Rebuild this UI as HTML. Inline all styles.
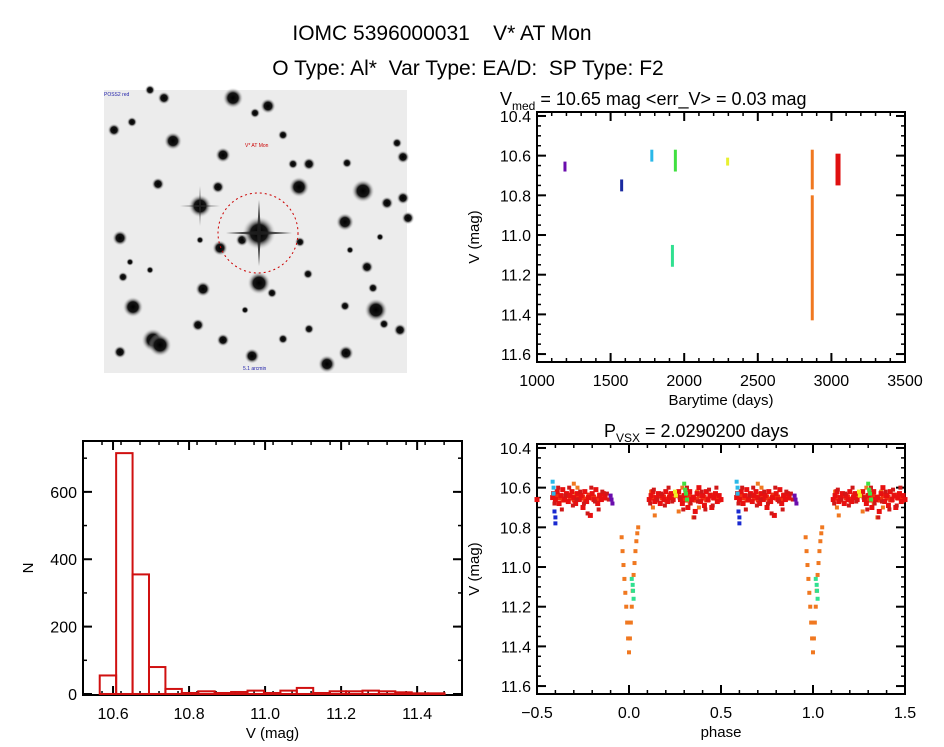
<!DOCTYPE html>
<html><head><meta charset="utf-8"><style>
html,body{margin:0;padding:0;background:#fff;}
svg{display:block;font-family:"Liberation Sans",sans-serif;}
</style></head><body>
<svg id="fig" width="944" height="747" viewBox="0 0 944 747">
<text x="442" y="40" font-size="21" text-anchor="middle" xml:space="preserve">IOMC 5396000031    V* AT Mon</text>
<text x="468" y="75" font-size="21" text-anchor="middle" xml:space="preserve">O Type: Al*  Var Type: EA/D:  SP Type: F2</text>
<g id="img"></g>
<g id="lc"></g>
<g id="hist"></g>
<g id="ph"></g>
</svg>
<script>
// ---- light curve data (time groups) ----
const lcTimes  = [1190, 1575, 1780, 1940, 1920, 2295, 2870, 2870, 3045];
const lcMagMin = [10.63,10.72,10.57,10.57,11.05,10.61,10.57,10.80,10.59];
const lcMagMax = [10.68,10.78,10.63,10.68,11.16,10.65,10.77,11.43,10.75];
const lcColors = ["#6a0dad","#1a2aa0","#2ab8e8","#40e040","#30e090","#e8f030","#f07820","#f07820","#e01010"];
// ---- histogram ----
const histStart = 10.565, histWidth = 0.0432;
const histCounts = [55,715,355,80,15,3,8,3,6,10,3,10,18,3,8,8,10,8,5,2,2];
// ---- phase data (phase in 0..1) ----
const redPhase = [0.11,0.12,0.13,0.14,0.15,0.16,0.17,0.18,0.19,0.20,0.21,0.22,0.23,0.24,0.26,0.27,0.28,0.29,0.30,0.31,0.32,0.33,0.34,0.35,0.36,0.37,0.38,0.39,0.40,0.41,0.42,0.43,0.44,0.45,0.46,0.47,0.48,0.49,0.50,0.585,0.59,0.60,0.61,0.62,0.63,0.64,0.65,0.66,0.67,0.68,0.69,0.70,0.71,0.72,0.73,0.74,0.75,0.76,0.77,0.78,0.79,0.80,0.81,0.82,0.83,0.84,0.85,0.86,0.87];
const redMag   = [10.66,10.64,10.62,10.67,10.65,10.63,10.68,10.64,10.66,10.62,10.67,10.65,10.63,10.66,10.64,10.62,10.66,10.68,10.64,10.63,10.70,10.62,10.66,10.65,10.72,10.63,10.60,10.67,10.64,10.69,10.62,10.66,10.64,10.70,10.65,10.63,10.67,10.64,10.66,10.65,10.63,10.66,10.62,10.68,10.64,10.61,10.66,10.63,10.67,10.64,10.62,10.65,10.68,10.63,10.66,10.64,10.70,10.62,10.67,10.65,10.74,10.63,10.66,10.61,10.68,10.64,10.66,10.63,10.65];
const red2Phase = [0.115,0.135,0.155,0.175,0.195,0.215,0.235,0.275,0.295,0.315,0.335,0.355,0.375,0.395,0.415,0.435,0.455,0.475,0.595,0.615,0.635,0.655,0.675,0.695,0.715,0.735,0.755,0.775,0.795,0.815,0.835,0.855,0.88,0.89];
const red2Mag   = [10.68,10.61,10.66,10.63,10.69,10.60,10.67,10.65,10.71,10.60,10.68,10.75,10.67,10.62,10.71,10.61,10.69,10.60,10.68,10.60,10.71,10.64,10.60,10.69,10.66,10.62,10.68,10.73,10.60,10.67,10.71,10.62,10.63,10.66];
const red3Phase = [0.125,0.145,0.165,0.185,0.205,0.225,0.285,0.305,0.325,0.345,0.365,0.385,0.405,0.425,0.445,0.465,0.485,0.605,0.625,0.645,0.665,0.685,0.705,0.725,0.745,0.765,0.785,0.805,0.825,0.845,0.865];
const red3Mag   = [10.65,10.66,10.64,10.65,10.66,10.64,10.65,10.66,10.64,10.65,10.66,10.64,10.65,10.66,10.64,10.65,10.66,10.64,10.65,10.66,10.64,10.65,10.66,10.64,10.65,10.66,10.64,10.65,10.66,10.64,10.65];
const orPhase = [-0.040,-0.035,-0.030,-0.025,-0.020,-0.015,-0.010,-0.005,0.000,0.005,0.010,0.015,0.020,0.025,0.030,0.035,0.040,0.045,0.050,0.12,0.13,0.14,0.15,0.25,0.27,0.29,0.33,0.35,0.37,0.38,0.64,0.70,0.71,0.72];
const orMag   = [10.85,10.92,10.99,11.06,11.13,11.20,11.28,11.36,11.43,11.36,11.28,11.20,11.12,11.04,10.98,10.92,10.87,10.83,10.80,10.62,10.70,10.74,10.66,10.64,10.72,10.60,10.68,10.75,10.62,10.70,10.66,10.58,10.63,10.60];
const grPhase = [0.30,0.305,0.31,0.315]; const grMag = [10.58,10.61,10.63,10.66];
const tlPhase = [0.015,0.02,0.022,0.025]; const tlMag = [11.06,11.09,11.12,11.16];
const cyPhase = [0.585,0.59,0.59]; const cyMag = [10.57,10.60,10.63];
const bluePhase = [0.595,0.60,0.60]; const blueMag = [10.72,10.75,10.78];
const puPhase = [0.90,0.905,0.91]; const puMag = [10.64,10.66,10.68];
const yePhase = [0.25,0.255]; const yeMag = [10.62,10.64];

const NS="http://www.w3.org/2000/svg";
function el(tag,attrs,parent,txt){const e=document.createElementNS(NS,tag);for(const k in attrs)e.setAttribute(k,attrs[k]);if(txt!==undefined)e.textContent=txt;parent.appendChild(e);return e;}

function axes(g,box,xr,yr,xticks,yticks,xminor,yminor,xfmt,yfmt,xlabel,ylabel,inv,ylx){
  const X=v=>box.x+(v-xr[0])/(xr[1]-xr[0])*box.w;
  const Y=inv?(v=>box.y+(v-yr[0])/(yr[1]-yr[0])*box.h):(v=>box.y+box.h-(v-yr[0])/(yr[1]-yr[0])*box.h);
  const fr=el('rect',{x:box.x,y:box.y,width:box.w,height:box.h,fill:'none',stroke:'#000','stroke-width':2},g);
  
  
  for(let v=xr[0];v<=xr[1]+1e-9;v+=xminor){const x=X(v);if(x<box.x-0.5||x>box.x+box.w+0.5)continue;
    el('line',{x1:x,x2:x,y1:box.y+box.h,y2:box.y+box.h-4,stroke:'#000','stroke-width':1.5},g);
    el('line',{x1:x,x2:x,y1:box.y,y2:box.y+4,stroke:'#000','stroke-width':1.5},g);}
  for(let v=Math.ceil(yr[0]/yminor)*yminor;v<=Math.max(yr[0],yr[1])+1e-9;v+=yminor){const y=Y(v);
    el('line',{x1:box.x,x2:box.x+4,y1:y,y2:y,stroke:'#000','stroke-width':1.5},g);
    el('line',{x1:box.x+box.w,x2:box.x+box.w-4,y1:y,y2:y,stroke:'#000','stroke-width':1.5},g);}
  xticks.forEach(v=>{const x=X(v);
    el('line',{x1:x,x2:x,y1:box.y+box.h,y2:box.y+box.h-9,stroke:'#000','stroke-width':2},g);
    el('line',{x1:x,x2:x,y1:box.y,y2:box.y+9,stroke:'#000','stroke-width':2},g);
    const t=el('text',{x:x,y:box.y+box.h+24,'font-size':16,'text-anchor':'middle'},g,xfmt(v));
    
    });
  yticks.forEach(v=>{const y=Y(v);
    el('line',{x1:box.x,x2:box.x+9,y1:y,y2:y,stroke:'#000','stroke-width':2},g);
    el('line',{x1:box.x+box.w,x2:box.x+box.w-9,y1:y,y2:y,stroke:'#000','stroke-width':2},g);
    const t=el('text',{x:box.x-6,y:y+6,'font-size':16,'text-anchor':'end'},g,yfmt(v));
    
    });
  const xl=el('text',{x:box.x+box.w/2,y:box.y+box.h+43,'font-size':15,'text-anchor':'middle'},g,xlabel);
  
  
  const yx=ylx,yy=box.y+box.h/2;
  const yl=el('text',{x:yx,y:yy,'font-size':15,'text-anchor':'middle',transform:`rotate(-90 ${yx} ${yy})`},g,ylabel);
  
  
  return {X,Y};
}

// ---- sky image ----
(function(){
  const g=document.getElementById('img');
  el('rect',{x:104,y:90,width:303,height:283,fill:'#ececec'},g);
  const defs=el('defs',{},g);
  const rg=el('radialGradient',{id:'st'},defs);
  el('stop',{offset:'0','stop-color':'#000'},rg);el('stop',{offset:'0.5','stop-color':'#151515'},rg);
  el('stop',{offset:'1','stop-color':'#ececec','stop-opacity':0},rg);
  const stars=[[200,206,9],[299,187,8],[363,191,9],[376,310,9],[133,307,8],[153,340,9],[160,345,9],[259,283,9],[233,98,8],[173,141,7],[345,222,7],[120,238,6],[203,289,6],[252,356,6],[327,364,7],[346,353,6],[268,106,6],[223,155,6],[309,164,5],[220,248,6],[367,267,5],[400,330,5],[120,352,5],[198,325,5],[223,340,5],[387,203,5],[403,157,5],[164,98,5],[150,90,4],[114,130,5],[283,135,4],[293,164,4],[347,163,4],[255,113,4],[300,242,4],[308,274,4],[123,277,4],[158,184,5],[218,187,5],[397,143,4],[403,198,5],[272,293,4],[373,288,4],[345,306,4],[384,324,4],[309,329,4],[283,339,4],[132,122,4],[242,240,5],[408,218,5],[380,237,3],[130,262,3],[150,270,3],[200,240,3],[350,250,3],[245,310,3]];
  stars.forEach(s=>el('circle',{cx:s[0],cy:s[1],r:s[2]*1.3,fill:'url(#st)'},g));
  el('circle',{cx:259,cy:233,r:17,fill:'url(#st)'},g);
  el('path',{d:'M259 200 L261 233 L259 266 L257 233Z M226 233 L259 231 L292 233 L259 235Z',fill:'#222',opacity:0.8},g);
  el('path',{d:'M200 186 L201 206 L200 226 L199 206Z M180 206 L200 205 L220 206 L200 207Z',fill:'#333',opacity:0.6},g);
  const c=el('circle',{cx:258,cy:233,r:40,fill:'none',stroke:'#c00','stroke-width':1,'stroke-dasharray':'2 3'},g);
  
  
  el('text',{x:245,y:147,'font-size':5,fill:'#c00'},g,'V* AT Mon');
  el('text',{x:104,y:96,'font-size':5,fill:'#22a'},g,'POSS2 red');
  el('text',{x:243,y:370,'font-size':5,fill:'#22a'},g,'5.1 arcmin');
})();

// ---- light curve ----
(function(){
  const g=document.getElementById('lc');
  const box={x:537,y:112,w:368,h:250};
  const ax=axes(g,box,[1000,3500],[10.38,11.64],[1000,1500,2000,2500,3000,3500],[10.4,10.6,10.8,11.0,11.2,11.4,11.6],100,0.05,v=>v.toFixed(0),v=>v.toFixed(1),'Barytime (days)','V (mag)',true,479);
  const t=el('text',{x:500,y:105,'font-size':18},g,'');
  t.innerHTML='V<tspan font-size="12" dy="5">med</tspan><tspan dy="-5"> = 10.65 mag &lt;err_V&gt; = 0.03 mag</tspan>';
  
  
  lcTimes.forEach((tm,i)=>{
    const x=ax.X(tm),y1=ax.Y(lcMagMin[i]),y2=ax.Y(lcMagMax[i]);
    const w=(i===8)?5:3;
    const r=el('rect',{x:x-w/2,y:y1,width:w,height:y2-y1,fill:lcColors[i]},g);
    
    
  });
})();

// ---- histogram ----
(function(){
  const g=document.getElementById('hist');
  const box={x:83,y:441,w:379,h:254};
  const ax=axes(g,box,[10.521,11.518],[-3,751],[10.6,10.8,11.0,11.2,11.4],[0,200,400,600],0.05,100,v=>v.toFixed(1),v=>v.toFixed(0),'V (mag)','N',false,33);
  histCounts.forEach((n,i)=>{
    const x0=ax.X(histStart+i*histWidth),x1=ax.X(histStart+(i+1)*histWidth);
    const y0=ax.Y(0),y1=ax.Y(n);
    const r=el('rect',{x:x0,y:y1,width:x1-x0,height:Math.max(y0-y1,0.5),fill:'none',stroke:'#d01010','stroke-width':2},g);
    
    
  });
})();

// ---- phase plot ----
(function(){
  const g=document.getElementById('ph');
  const box={x:537,y:444,w:368,h:250};
  const ax=axes(g,box,[-0.5,1.5],[10.38,11.64],[-0.5,0.0,0.5,1.0,1.5],[10.4,10.6,10.8,11.0,11.2,11.4,11.6],0.1,0.05,v=>v.toFixed(1).replace('-','\u2212'),v=>v.toFixed(1),'phase','V (mag)',true,479);
  const t=el('text',{x:604,y:437,'font-size':18},g,'');
  t.innerHTML='P<tspan font-size="12" dy="5">VSX</tspan><tspan dy="-5"> = 2.0290200 days</tspan>';
  
  
  function series(ph,mg,col,name,sz){
    ph.forEach((p,i)=>{
      [-1,0,1].forEach(k=>{
        const pp=p+k; if(pp<-0.5||pp>1.5)return;
        const x=ax.X(pp),y=ax.Y(mg[i]);
        const r=el('rect',{x:x-sz/2,y:y-sz/2,width:sz,height:sz,fill:col},g);
        
        
      });
    });
  }
  series(orPhase,orMag,'#f07820','phase-point-orange',4);
  series(red3Phase,red3Mag,'#f03010','phase-point-red',6);
  series(redPhase,redMag,'#e81010','phase-point-red',5);
  series(red2Phase,red2Mag,'#d01818','phase-point-red',4);
  series(grPhase,grMag,'#40e040','phase-point-green',4);
  series(tlPhase,tlMag,'#30e090','phase-point-teal',4);
  series(cyPhase,cyMag,'#2ab8e8','phase-point-cyan',4);
  series(bluePhase,blueMag,'#1a2ad0','phase-point-blue',4);
  series(puPhase,puMag,'#6a0dad','phase-point-purple',4);
  series(yePhase,yeMag,'#f0f020','phase-point-yellow',4);
})();
</script>
</body></html>
